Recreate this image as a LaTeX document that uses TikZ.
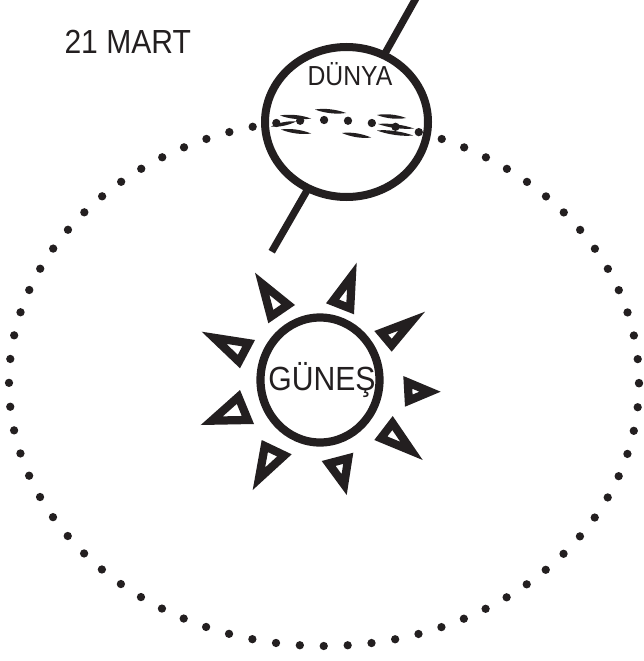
\documentclass[tikz,border=0pt]{standalone}
\usepackage{fontspec}
\setmainfont[FakeStretch=0.9]{Liberation Sans}
\usetikzlibrary{shapes.geometric,calc}
\definecolor{ink}{RGB}{35,31,32}

% thin tapered streak: start, end, bulge
\newcommand\dunyastreak[3]{%
  \fill[ink] #1 .. controls ($#1!0.3!#2+(0,#3)$) and ($#1!0.7!#2+(0,#3)$) .. #2
    .. controls ($#1!0.7!#2-(0,#3)$) and ($#1!0.3!#2-(0,#3)$) .. #1 -- cycle;}

% hollow triangular ray: three corners of the outer outline
\newcommand\sunray[3]{%
  \begin{scope}
    \clip #1 -- #2 -- #3 -- cycle;
    \draw[ink, line width=16.5pt] #1 -- #2 -- #3 -- cycle;
  \end{scope}}

\tikzset{
  earthbody/.style={ellipse, draw=ink, line width=8pt, minimum width=163pt,
    minimum height=150pt, inner sep=0pt, outer sep=0pt},
  sunbody/.style={ellipse, draw=ink, line width=8.2pt, minimum width=119pt,
    minimum height=125pt, inner sep=0pt, outer sep=0pt},
  axisline/.style={draw=ink, line width=7.2pt},
  orbitdots/.style={draw=ink, line width=8.3pt, line cap=round,
    dash pattern=on 0pt off 23.94pt},
  lbl/.style={text=ink, inner sep=0pt, outer sep=0pt}
}

\begin{document}
\begin{tikzpicture}[x=1pt, y=-1pt]
  \useasboundingbox (0,0) rectangle (643,661);
  \clip (0,0) rectangle (643,661);

  % orbit
  \draw[orbitdots] (324,383) ellipse [x radius=315pt, y radius=263pt];

  % Earth with its tilted axis
  \node[earthbody] (earth) at (346.5,122) {};
  \coordinate (axtop) at (426.2,-20);
  \coordinate (axbot) at (271.7,251.7);
  \draw[axisline] (axtop) -- (earth);
  \draw[axisline] (earth) -- (axbot);

  % equator streaks
  \dunyastreak{(280,115.5)}{(311,118.5)}{2.6}
  \dunyastreak{(271,126.5)}{(296,121.5)}{2.4}
  \dunyastreak{(281,129.5)}{(311,133.5)}{2.6}
  \dunyastreak{(315,109.5)}{(346,113)}{2.6}
  \dunyastreak{(342,133)}{(371,137.5)}{2.6}
  \dunyastreak{(377,115)}{(406,118)}{2.6}
  \dunyastreak{(378,124)}{(414,128.5)}{2.5}
  \dunyastreak{(377,130.5)}{(413,135.5)}{2.6}

  \node[lbl, anchor=base, font=\fontsize{27.5pt}{32pt}\selectfont]
    (earthlabel) at (350,85.5) {DÜNYA};

  % Sun
  \node[sunbody] (sun) at (320,380) {};
  \node[lbl, anchor=base, font=\fontsize{33.5pt}{40pt}\selectfont]
    (sunlabel) at (322,390) {GÜNEŞ};

  \sunray{(255,272.7)}{(295,305)}{(268.3,323.3)}
  \sunray{(356.7,262.7)}{(326,303.3)}{(354,314.3)}
  \sunray{(425,311.7)}{(374.3,331)}{(391.7,351.7)}
  \sunray{(403.3,376)}{(440.7,391.7)}{(405,406.7)}
  \sunray{(392.7,416)}{(374.3,440)}{(422.7,460)}
  \sunray{(321.7,461)}{(353.3,452.7)}{(346.7,495)}
  \sunray{(261.7,440)}{(291.7,454.3)}{(252.7,490)}
  \sunray{(240,390)}{(254,424)}{(200.7,425)}
  \sunray{(201.7,331.7)}{(255,340)}{(240,368.3)}

  % date
  \node[lbl, anchor=base west, font=\fontsize{33.4pt}{40pt}\selectfont]
    (date) at (64.5,53) {21 MART};
\end{tikzpicture}
\end{document}
